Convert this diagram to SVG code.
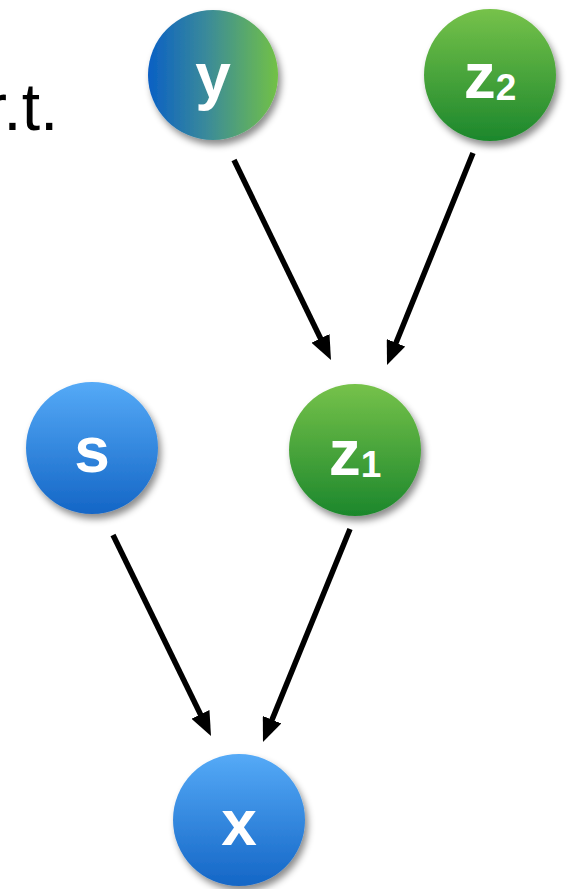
<svg xmlns="http://www.w3.org/2000/svg" width="567" height="889" viewBox="0 0 567 889">
<defs>
<linearGradient id="gBlue" x1="0" y1="0" x2="0" y2="1"><stop offset="0" stop-color="#55AAF7"/><stop offset="1" stop-color="#1466C6"/></linearGradient>
<linearGradient id="gGreen" x1="0" y1="0" x2="0" y2="1"><stop offset="0" stop-color="#76C24A"/><stop offset="1" stop-color="#1C872C"/></linearGradient>
<linearGradient id="gMix" x1="0" y1="0" x2="1" y2="0"><stop offset="0" stop-color="#0A60C4"/><stop offset="0.45" stop-color="#3A8A9A"/><stop offset="1" stop-color="#72C146"/></linearGradient>
<filter id="sh" x="-20%" y="-20%" width="150%" height="150%"><feDropShadow dx="3" dy="5" stdDeviation="3.5" flood-color="#000" flood-opacity="0.45"/></filter>
<marker id="ah" viewBox="0 0 24 20" markerWidth="24" markerHeight="20" refX="11" refY="10" orient="auto" markerUnits="userSpaceOnUse"><path d="M0,0 L24,10 L0,20 Z" fill="#000"/></marker>
</defs>
<style>
.lbl{font-family:"Liberation Sans",Arial,sans-serif;font-weight:bold;fill:#fff;font-size:64px;text-anchor:middle}
.sub{font-size:37px}
.edge{stroke:#000;stroke-width:5.5;fill:none;marker-end:url(#ah)}
</style>
<text x="-15" y="130" font-family="Liberation Sans, Arial, sans-serif" font-size="66" fill="#000">r.t.</text>
<g id="connectors">
<line class="edge" x1="234" y1="160" x2="325.3" y2="348.3"/>
<line class="edge" x1="473" y1="153" x2="391.9" y2="353"/>
<line class="edge" x1="113" y1="535" x2="205.3" y2="724.3"/>
<line class="edge" x1="350" y1="529" x2="267.9" y2="729.9"/>
</g>
<g id="node-y"><circle cx="213" cy="75" r="65" fill="url(#gMix)" filter="url(#sh)"/><text class="lbl" x="213" y="98">y</text></g>
<g id="node-z2"><circle cx="490" cy="75" r="66" fill="url(#gGreen)" filter="url(#sh)"/><text class="lbl" x="490" y="98">z<tspan class="sub" dy="2">2</tspan></text></g>
<g id="node-s"><circle cx="92" cy="448" r="66" fill="url(#gBlue)" filter="url(#sh)"/><text class="lbl" x="92" y="472">s</text></g>
<g id="node-z1"><circle cx="355" cy="450" r="66" fill="url(#gGreen)" filter="url(#sh)"/><text class="lbl" x="355" y="475">z<tspan class="sub" dy="2">1</tspan></text></g>
<g id="node-x"><circle cx="239" cy="820" r="66" fill="url(#gBlue)" filter="url(#sh)"/><text class="lbl" x="239" y="845">x</text></g>
</svg>
